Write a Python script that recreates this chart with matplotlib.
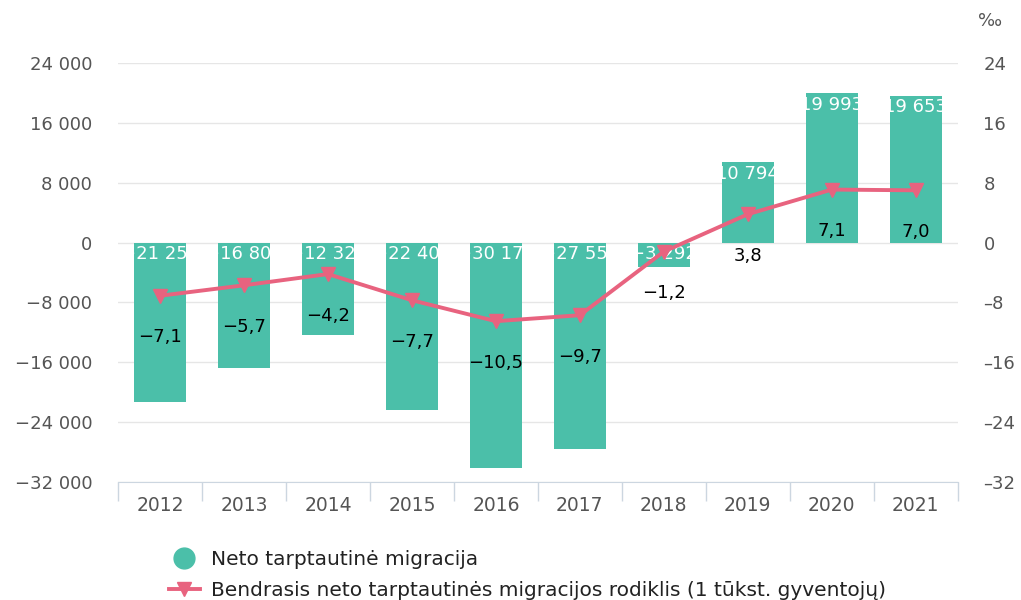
import matplotlib
matplotlib.use("Agg")
import matplotlib.pyplot as plt
import matplotlib.transforms as mtransforms
from matplotlib.lines import Line2D

# data
years = ["2012", "2013", "2014", "2015", "2016", "2017", "2018", "2019", "2020", "2021"]
net_migration = [-21257, -16807, -12327, -22403, -30171, -27557, -3292, 10794, 19993, 19653]
rate = [-7.1, -5.7, -4.2, -7.7, -10.5, -9.7, -1.2, 3.8, 7.1, 7.0]
left_ticks = [-32000, -24000, -16000, -8000, 0, 8000, 16000, 24000]
right_ticks = [-32, -24, -16, -8, 0, 8, 16, 24]
bar_name = "Neto tarptautinė migracija"
line_name = "Bendrasis neto tarptautinės migracijos rodiklis (1 tūkst. gyventojų)"

bar_color = "#4bbfa9"
line_color = "#e8637f"
grey = "#555555"

plt.rcParams['font.family'] = 'DejaVu Sans'

def fmt_thousands(v):
    s = f"{abs(int(v)):,}".replace(",", " ")
    return ("\u2212" if v < 0 else "") + s

fig = plt.figure(figsize=(10.21, 6), dpi=100)
ax = fig.add_axes([0.1156, 0.1967, 0.8224, 0.698])
ax2 = ax.twinx()
ax.set_zorder(ax2.get_zorder() + 1)
ax.patch.set_visible(False)

x = list(range(len(years)))
bars = ax.bar(x, net_migration, width=0.62, color=bar_color, zorder=2)
ax.set_ylim(-32000, 24000)
ax.set_xlim(-0.5, len(years) - 0.5)
ax2.set_ylim(-32, 24)

# bar value labels, clipped to the bar like in the original
down = mtransforms.ScaledTranslation(0, -2 / 72, fig.dpi_scale_trans)
for b, v in zip(bars, net_migration):
    top = 0 if v < 0 else v
    t = ax.text(b.get_x() + b.get_width() / 2, top, fmt_thousands(v),
                transform=ax.transData + down,
                ha="center", va="top", color="white", fontsize=13, zorder=3)
    x0, x1 = b.get_x(), b.get_x() + b.get_width()
    y0, y1 = sorted([0, v])
    t.set_clip_box(mtransforms.TransformedBbox(
        mtransforms.Bbox([[x0, y0], [x1, y1]]), ax.transData))
    t.set_clip_on(True)

# rate line (drawn on main axis scaled *1000 so it sits above bars)
rate_scaled = [r * 1000 for r in rate]
ax.plot(x, rate_scaled, color=line_color, lw=2.8, marker="v", markersize=10, zorder=4)
for xi, r, rs in zip(x, rate, rate_scaled):
    ax.annotate(f"{r:.1f}".replace(".", ",").replace("-", "\u2212"), (xi, rs),
                xytext=(0, -30), textcoords="offset points",
                ha="center", va="center", fontsize=13, color="black", zorder=5)

# axes styling
ax.set_yticks(left_ticks)
ax.set_yticklabels([fmt_thousands(v) for v in left_ticks])
ax2.set_yticks(right_ticks)
ax2.set_yticklabels([str(v).replace("-", "\u2013") for v in right_ticks])
ax.set_xticks(x)
ax.set_xticklabels(years)
ax.set_xticks([i - 0.5 for i in range(len(years) + 1)], minor=True)

for a in (ax, ax2):
    for s in a.spines.values():
        s.set_visible(False)
ax.spines["bottom"].set_visible(True)
ax.spines["bottom"].set_color("#ccd6e0")

ax.grid(axis="y", color="#e6e6e6", lw=1, zorder=0)
ax.tick_params(axis="y", length=0, labelsize=13, labelcolor=grey, pad=18.5)
ax2.tick_params(axis="y", length=0, labelsize=13, labelcolor=grey, pad=18.5)
ax.tick_params(axis="x", which="major", length=0, labelsize=13.5, labelcolor=grey, pad=10)
ax.tick_params(axis="x", which="minor", length=14, color="#ccd6e0", width=1)

fig.text(0.97, 0.965, "‰", ha="center", va="center", fontsize=13, color=grey)

handles = [
    Line2D([], [], color=bar_color, marker="o", linestyle="none", markersize=15),
    Line2D([], [], color=line_color, marker="v", lw=2.8, markersize=10),
]
fig.legend(handles, [bar_name, line_name], loc="center left",
           bbox_to_anchor=(0.156, 0.042), frameon=False, fontsize=14.5,
           handlelength=1.5, handletextpad=0.55, labelspacing=0.62,
           labelcolor="#222222", borderpad=0)

fig.savefig("out.png", dpi=100)
